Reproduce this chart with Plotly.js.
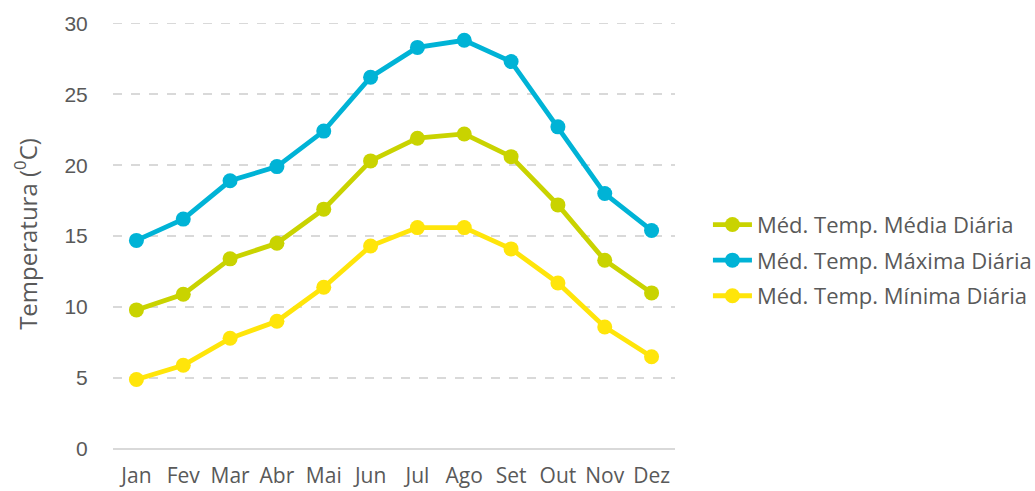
<!DOCTYPE html>
<html>
<head>
<meta charset="utf-8">
<script src="https://cdn.plot.ly/plotly-3.0.1.min.js"></script>
<style>html,body{margin:0;padding:0;background:#fff;}#chart{width:1035px;height:491px;}</style>
</head>
<body>
<div id="chart"></div>
<script>
const months = ["Jan","Fev","Mar","Abr","Mai","Jun","Jul","Ago","Set","Out","Nov","Dez"];
const mediaDiaria = [9.8, 10.9, 13.4, 14.5, 16.9, 20.3, 21.9, 22.2, 20.6, 17.2, 13.3, 11.0];
const maximaDiaria = [14.7, 16.2, 18.9, 19.9, 22.4, 26.2, 28.3, 28.8, 27.3, 22.7, 18.0, 15.4];
const minimaDiaria = [4.9, 5.9, 7.8, 9.0, 11.4, 14.3, 15.6, 15.6, 14.1, 11.7, 8.6, 6.5];
const seriesNames = ["Méd. Temp. Média Diária","Méd. Temp. Máxima Diária","Méd. Temp. Mínima Diária"];

function tr(y, name, color, g){
  return {x: months, y: y, name: name, type: 'scatter', mode: 'lines+markers', legendgroup: g,
    line: {color: color, width: 4.8}, marker: {color: color, size: 15}};
}
const data = [
  tr(mediaDiaria, seriesNames[0], '#C9D300', 'a'),
  tr(maximaDiaria, seriesNames[1], '#00B3D6', 'b'),
  tr(minimaDiaria, seriesNames[2], '#FFE50A', 'c')
];
const layout = {
  width: 1035, height: 491,
  margin: {l: 113, r: 360, t: 19, b: 42},
  paper_bgcolor: '#fff', plot_bgcolor: '#fff',
  font: {family: 'Liberation Sans, Arial, sans-serif', color: '#595959', size: 18},
  xaxis: {type: 'category', range: [-0.5, 11.5], showgrid: false, zeroline: false, showline: false,
    ticks: 'outside', ticklen: 8, tickcolor: 'rgba(0,0,0,0)',
    tickfont: {family: 'Open Sans, sans-serif', size: 21, color: '#595959'}},
  yaxis: {range: [0, 30.3], tickvals: [0,5,10,15,20,25,30], showgrid: true, gridcolor: '#D9D9D9', griddash: 'dash', gridwidth: 1.5,
    zeroline: true, zerolinecolor: '#D9D9D9', zerolinewidth: 1.5,
    ticks: 'outside', ticklen: 20, tickcolor: 'rgba(0,0,0,0)',
    tickfont: {size: 21, color: '#595959'},
    title: {text: 'Temperatura (<sup>0</sup>C)', font: {family: 'Open Sans, sans-serif', size: 24, color: '#595959'}, standoff: 20}},
  legend: {xref: 'container', yref: 'container', x: 0.684, y: 0.47, xanchor: 'left', yanchor: 'middle',
    font: {family: 'Open Sans, sans-serif', size: 22, color: '#595959'}, tracegroupgap: 4, itemwidth: 39},
  showlegend: true
};
Plotly.newPlot('chart', data, layout, {displayModeBar: false, staticPlot: true});
</script>
</body>
</html>
